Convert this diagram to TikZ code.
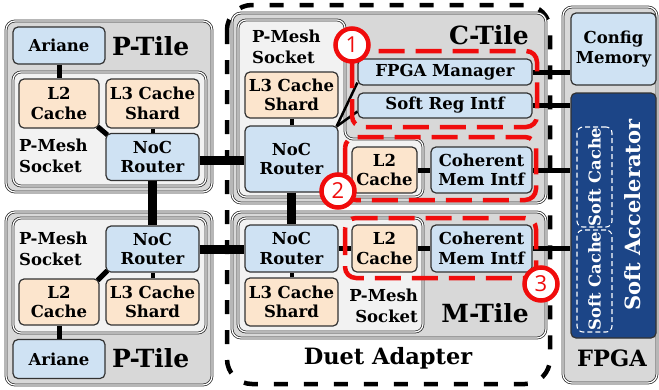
\documentclass[tikz,border=0pt]{standalone}
\usepackage{fontspec}
\setmainfont{DejaVu Serif}
\setsansfont{Open Sans}
\usetikzlibrary{calc}

\definecolor{tilegray}{RGB}{216,216,216}
\definecolor{socketgray}{RGB}{242,242,242}
\definecolor{boxblue}{RGB}{207,226,243}
\definecolor{boxorange}{RGB}{252,229,205}
\definecolor{accblue}{RGB}{28,69,135}
\definecolor{edge}{RGB}{50,50,50}
\definecolor{zonered}{RGB}{240,12,12}

\newcommand{\cachefont}{\bfseries\fontsize{16.3}{16.3}\selectfont}

\begin{document}
\begin{tikzpicture}[x=1pt,y=-1pt,
  font=\bfseries\fontsize{16.5}{19.5}\selectfont,
  tile/.style={draw=edge, line width=0.8pt, double=white, double distance=1.2pt, fill=tilegray, rounded corners=9pt},
  socket/.style={draw=edge, line width=0.8pt, double=white, double distance=1.2pt, fill=socketgray, rounded corners=8pt},
  box/.style={draw=edge, line width=1.2pt, rounded corners=5pt, align=center, inner sep=0pt},
  bluebox/.style={box, fill=boxblue},
  orangebox/.style={box, fill=boxorange},
  title/.style={inner sep=0pt, font=\bfseries\fontsize{25}{25}\selectfont},
  bigtitle/.style={inner sep=0pt, font=\bfseries\fontsize{22.5}{22.5}\selectfont},
  sockettext/.style={inner sep=0pt, font=\bfseries\fontsize{16.5}{21}\selectfont},
  bus/.style={line width=9pt},
  link/.style={line width=5pt},
  stub/.style={line width=4pt},
  wire/.style={line width=2.5pt},
  duet/.style={draw=black, line width=4.5pt, rounded corners=25pt, dash pattern=on 14pt off 16pt},
  redzone/.style={draw=zonered, line width=4.5pt, rounded corners=11pt, dash pattern=on 26pt off 11pt},
  badge/.style={circle, draw=zonered, line width=4.5pt, fill=white, minimum size=33pt, inner sep=0pt,
    text=zonered, font=\sffamily\fontsize{22}{22}\selectfont},
  cachebox/.style={draw=white, line width=1.1pt, dash pattern=on 5pt off 3pt, rounded corners=6pt, inner sep=0pt},
  cachetext/.style={rotate=90, text=white, inner sep=0pt},
]
\useasboundingbox (0,0) rectangle (659,389);

% ---------- FPGA ----------
\draw[tile] (563,7) rectangle (657,383);
\node[bluebox, minimum width=85pt, minimum height=72pt] (cfg) at (613.5,49) {Config\\Memory};
\node[box, fill=accblue, minimum width=85pt, minimum height=245pt] (acc) at (613.5,215.5) {};
\node[rotate=90, text=white, inner sep=0pt, font=\bfseries\fontsize{21}{21}\selectfont] (acct) at (633,215) {Soft Accelerator};
\node[cachebox, minimum width=35pt, minimum height=100pt] (sc1) at (594.5,177) {};
\node[cachebox, minimum width=35pt, minimum height=102pt] (sc2) at (594.5,281) {};
\node[cachetext] (sc1t) at (sc1.center) {\cachefont Soft Cache};
\node[cachetext] (sc2t) at (sc2.center) {\cachefont Soft Cache};
\node[bigtitle] (fpgat) at (612,358) {FPGA};

% ---------- Duet Adapter frame ----------
\draw[duet] (227,5) rectangle (550,384);
\node[bigtitle] (duett) at (388,358) {Duet Adapter};

% ---------- top P-Tile ----------
\draw[tile] (6,21) rectangle (212,192);
\draw[socket] (13,72) rectangle (206,186);
\node[bluebox, minimum width=92pt, minimum height=37pt] (pta) at (59,45.5) {Ariane};
\node[title, anchor=west] (ptt) at (112,46) {P-Tile};
\node[orangebox, minimum width=80pt, minimum height=49pt] (ptl2) at (59,103.5) {L2\\Cache};
\node[orangebox, minimum width=93pt, minimum height=49pt] (ptl3) at (152.5,103.5) {L3 Cache\\Shard};
\node[bluebox, minimum width=93pt, minimum height=47pt] (ptn) at (152.5,157) {NoC\\Router};
\node[sockettext, anchor=west, align=left] (pts) at (19,156) {P-Mesh\\Socket};

% ---------- bottom P-Tile ----------
\draw[tile] (6,212) rectangle (212,385);
\draw[socket] (13,218) rectangle (206,333);
\node[bluebox, minimum width=93pt, minimum height=46pt] (pbn) at (152.5,249) {NoC\\Router};
\node[orangebox, minimum width=80pt, minimum height=46pt] (pbl2) at (59,302) {L2\\Cache};
\node[orangebox, minimum width=93pt, minimum height=46pt] (pbl3) at (152.5,302) {L3 Cache\\Shard};
\node[bluebox, minimum width=92pt, minimum height=39pt] (pba) at (59,359) {Ariane};
\node[title, anchor=west] (pbt) at (112,358) {P-Tile};
\node[sockettext, anchor=west, align=left] (pbs) at (19,249) {P-Mesh\\Socket};

% ---------- C-Tile ----------
\draw[tile] (232,13) rectangle (546,203);
\draw[socket] (238,20) -- (345,20) -- (345,139) -- (423,139) -- (423,197) -- (238,197) -- cycle;
\node[title, anchor=east] (ctt) at (529,35) {C-Tile};
\node[sockettext, anchor=west, align=left] (cts) at (252,47) {P-Mesh\\Socket};
\node[orangebox, minimum width=93pt, minimum height=46pt] (cl3) at (291.5,95) {L3 Cache\\Shard};
\node[bluebox, minimum width=93pt, minimum height=66pt] (ctn) at (291.5,159) {NoC\\Router};
\node[bluebox, minimum width=174pt, minimum height=26pt] (fm) at (445,72) {FPGA Manager};
\node[bluebox, minimum width=174pt, minimum height=25pt] (sr) at (445,105.5) {Soft Reg Intf};
\node[orangebox, minimum width=65pt, minimum height=46pt] (cl2) at (384.5,170) {L2\\Cache};
\node[bluebox, minimum width=101pt, minimum height=46pt] (ccoh) at (481.5,170) {Coherent\\Mem Intf};

% ---------- M-Tile ----------
\draw[tile] (232,212) rectangle (546,338);
\draw[socket] (238,218) rectangle (423,332);
\node[bluebox, minimum width=93pt, minimum height=47pt] (mtn) at (291.5,248.5) {NoC\\Router};
\node[orangebox, minimum width=65pt, minimum height=47pt] (ml2) at (384.5,248.5) {L2\\Cache};
\node[bluebox, minimum width=101pt, minimum height=47pt] (mcoh) at (481.5,248.5) {Coherent\\Mem Intf};
\node[orangebox, minimum width=93pt, minimum height=48pt] (ml3) at (291.5,302) {L3 Cache\\Shard};
\node[sockettext, anchor=east, align=right] (mts) at (418,306) {P-Mesh\\Socket};
\node[title, anchor=east] (mtt) at (529,313) {M-Tile};

% ---------- mesh links between routers ----------
\draw[bus] (ptn.east |- 0,160) -- (ctn.west |- 0,160);
\draw[bus] (ptn.south) -- (pbn.north);
\draw[bus] (ctn.south) -- (mtn.north);
\draw[bus] (pbn.east |- 0,249) -- (mtn.west |- 0,249);

% ---------- links inside the tiles ----------
\draw[link] (pta.south) -- (ptl2.north);
\draw[link] ($(ptl2.south east)+(-2,-2)$) -- ($(ptn.north west)+(2,2)$);
\draw[stub] (ptl3.south) -- (ptn.north);
\draw[link] (pba.north) -- (pbl2.south);
\draw[link] ($(pbl2.north east)+(-2,2)$) -- ($(pbn.south west)+(2,-2)$);
\draw[stub] (pbl3.north) -- (pbn.south);
\draw[stub] (cl3.south) -- (ctn.north);
\draw[link] (cl2.east) -- (ccoh.west);
\draw[wire] ($(ctn.north east)+(-2,1)$) -- ($(fm.south west)+(0,-3)$);
\draw[wire] ($(ctn.north east)+(-2,1)$) -- ($(sr.west)+(0,6)$);
\draw[link] (mtn.east) -- (ml2.west);
\draw[link] (ml2.east) -- (mcoh.west);
\draw[stub] (ml3.north) -- (mtn.south);

% ---------- links to the FPGA ----------
\draw[link] (fm.east) -- (cfg.west |- fm.east);
\draw[link] (sr.east) -- (acc.west |- sr.east);
\draw[link] (ccoh.east) -- (acc.west |- ccoh.east);
\draw[link] (mcoh.east) -- (acc.west |- mcoh.east);

% ---------- highlighted regions ----------
\draw[redzone] (352,51) rectangle (537,127);
\draw[redzone] (345,137) rectangle (536,200);
\draw[redzone] (345,218) rectangle (536,278);
\node[badge] (b1) at (352,45) {1};
\node[badge] (b2) at (338,191) {2};
\node[badge] (b3) at (541,284) {3};
\end{tikzpicture}
\end{document}
